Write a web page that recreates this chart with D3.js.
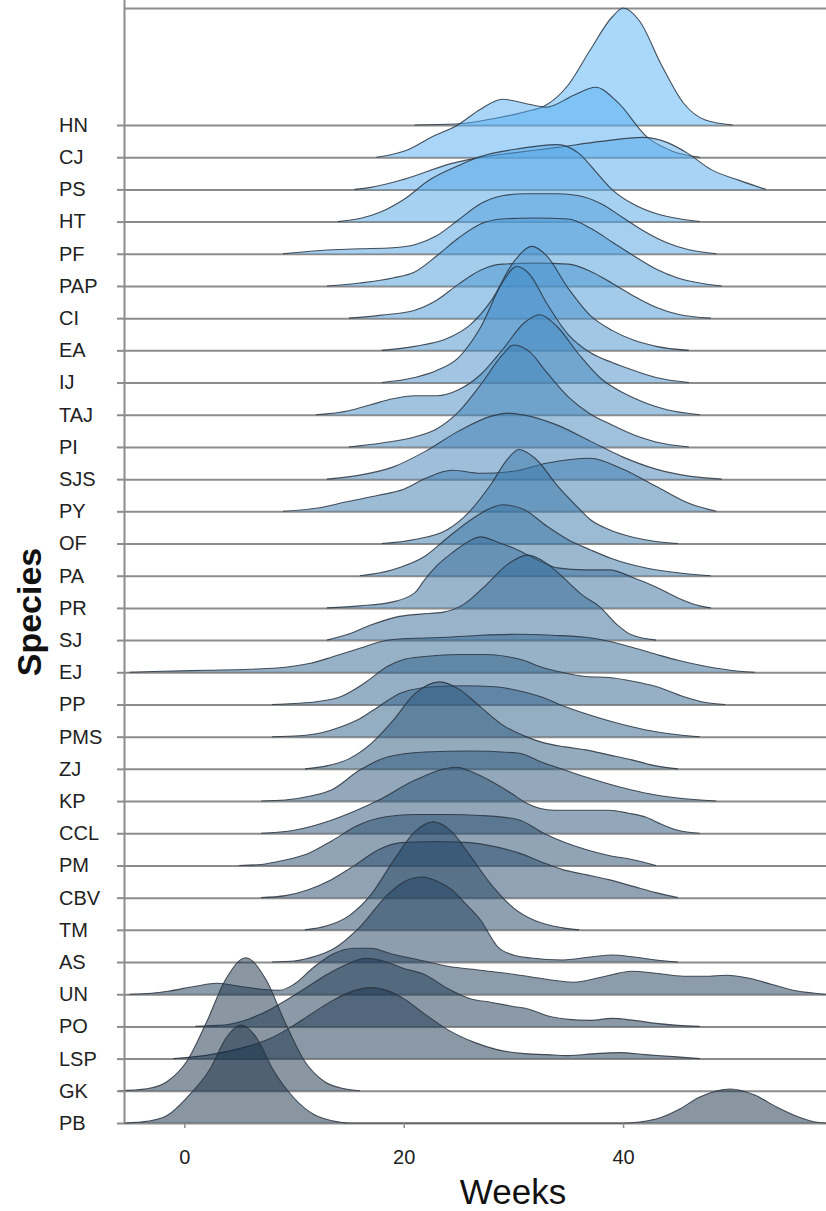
<!DOCTYPE html>
<html>
<head>
<meta charset="utf-8">
<script src="https://cdn.jsdelivr.net/npm/d3@7"></script>
<style>
  body { margin: 0; background: #fff; }
  svg { display: block; font-family: "Liberation Sans", Arial, sans-serif; }
</style>
</head>
<body>
<svg width="826" height="1211"></svg>
<script>
const svg = d3.select('svg');
const width = +svg.attr('width');
const height = +svg.attr('height');

// species, top to bottom
const species = ['HN','CJ','PS','HT','PF','PAP','CI','EA','IJ','TAJ','PI','SJS','PY','OF','PA','PR',
  'SJ','EJ','PP','PMS','ZJ','KP','CCL','PM','CBV','TM','AS','UN','PO','LSP','GK','PB'];

// ridge outlines: [week, relative density]
const hn = [[21,0],[24.8,1],[28,6],[31,13],[33,20],[35,40],[37,75],[39,108],[40,117],[41.5,104],[43.5,60],[45.5,22],[47.5,5],[50,0]];
const cj = [[17.5,0],[19,3],[20.5,8],[22.5,20],[24.9,32],[27,48],[29,58],[31,54],[33,50],[35.5,62],[37.5,70],[39.5,55],[42.2,20],[44.5,6],[47,0]];
const ps = [[15.5,0],[17,2],[20,10],[24.4,26],[27,32],[30.4,37],[34,42],[38,48],[41.8,52],[44,47],[45.9,36],[48,20],[50.6,9],[53,0]];
const ht = [[14,0],[16,3],[18,10],[20,22],[22.4,42],[25,56],[27,65],[30,72],[34,77],[36,68],[37.5,50],[39,32],[41,17],[43,8],[45,3],[47,0]];
const pf = [[9,0],[11,2],[13.5,4],[16,5],[19,6],[21,9],[23,18],[25,34],[27,50],[29,58],[31,60],[34,60],[36,58],[38,50],[40,36],[42,22],[44,11],[46,4],[48.5,0]];
const pap = [[13,0],[16,3],[19,8],[21,14],[23,30],[25,48],[27,62],[29,67],[32,68],[35,67],[37,58],[39,44],[41,30],[43,17],[45,8],[47,3],[49,0]];
const ci = [[15,0],[18,3],[21,8],[23,18],[25,34],[27,48],[29,54],[32,55],[35,54],[37,47],[39,35],[41,22],[43,11],[45,4],[48,0]];
const ea = [[18,0],[21,4],[24,12],[26,25],[28,50],[30,88],[31.7,104],[33,95],[35,62],[37,35],[39,20],[41,10],[43,4],[46,0]];
const ij = [[18,0],[21,5],[23,12],[25,25],[27,55],[29,100],[30.3,116],[31.5,108],[33,80],[35,48],[37,30],[39,20],[41,12],[43,5],[46,0]];
const taj = [[12,0],[15,4],[17,10],[19,16],[21,19],[23,19],[25,25],[27,40],[29,65],[31,92],[32.4,100],[34,88],[36,60],[38,36],[40,22],[42,12],[44,5],[47,0]];
const pi = [[15,0],[18,4],[21,10],[23,18],[25,35],[27,62],[29,92],[30,102],[31.5,95],[33,75],[35,50],[37,33],[39,22],[41,12],[43,5],[46,0]];
const sjs = [[13,0],[16,4],[19,12],[22,28],[25,48],[28,63],[29.5,66],[31,64],[34,54],[37,38],[40,22],[43,10],[46,3],[49,0]];
const py = [[9,0],[12,3],[15,10],[17.7,16],[20,22],[22,33],[24.4,41],[27,38],[30,40],[33,48],[37,53],[40,42],[43,25],[46,8],[48.5,0]];
const of = [[18,0],[21,4],[24,14],[26,32],[28,60],[29.5,85],[30.5,94],[32,85],[34,58],[35.8,37],[37,24],[38.7,14],[41,6],[43,2],[45,0]];
const pa = [[16,0],[19,6],[22,20],[24,38],[26,55],[28,68],[29,71],[31,66],[33,50],[35,36],[37,26],[39,17],[42,8],[45,3],[48,0]];
const pr = [[13,0],[16,2],[19,6],[21,15],[21.9,28],[23,42],[24.4,55],[26,67],[27,71],[28.5,66],[30.4,58],[32,49],[34,40],[36.5,38],[38.7,38],[41,30],[43,21],[45,10],[47,2],[48,0]];
const sj = [[13,0],[15,6],[17,15],[19.3,23],[21.5,26],[23.6,28],[25.5,36],[27.5,55],[29.5,76],[31.3,85],[33,77],[34.5,63],[36.3,45],[37.9,33],[39.5,15],[40.8,5],[43,0]];
const ej = [[-5,0],[-2,1],[2,2],[6,3],[9.2,5],[11.5,9],[13.4,15],[16,24],[18.5,32],[21,34],[24,35],[27,37],[30.4,38],[33.5,37],[36.6,35],[38.7,31],[40.8,25],[43,18],[45,12],[47.5,6],[50.6,1],[52,0]];
const pp = [[8,0],[10,1],[12.2,3],[14.3,8],[16.5,22],[18.5,38],[20,45],[21.9,48],[25.2,50],[27.5,50],[29.4,48],[31,44],[32.4,38],[34.5,32],[36.6,28],[38.7,27],[41,23],[43,18],[45.5,8],[47.5,2],[49.3,0]];
const pms = [[8,0],[10.5,1],[12.5,4],[14.3,10],[16,18],[17.7,30],[19.8,44],[22.7,50],[25.5,51],[28.3,50],[30.5,46],[32.5,40],[34.5,31],[36.6,23],[38.7,16],[40.8,10],[43,5],[45,2],[47,0]];
const zj = [[11,0],[13,3],[15,10],[17,25],[19,48],[21,75],[23.3,87],[25,80],[27,62],[29,44],[31.2,32],[32.8,26],[34.7,22],[36.6,19],[38.7,14],[40.8,9],[43,3],[45,0]];
const kp = [[7,0],[9.2,1],[11.5,5],[13.4,11],[16,31],[18.5,44],[21.9,49],[26,50],[30.4,48],[32.8,38],[34.7,31],[36.6,24],[38.7,17],[40.8,11],[43,6],[45,3],[48.5,0]];
const ccl = [[7,0],[10,3],[13.4,13],[15.5,22],[17.7,33],[21,53],[24.8,66],[26.5,60],[28.3,50],[29.8,40],[31.2,30],[33.7,23],[36,23],[38.7,23],[40.5,20],[42.1,16],[43.5,9],[45,3],[47,0]];
const pm = [[5,0],[7,1],[9,5],[11.3,12],[13.5,25],[15.6,39],[18.5,49],[21,51],[24,51],[27,50],[30.4,46],[32.8,32],[34.7,23],[36.6,16],[38.7,10],[40.8,6],[43,0]];
const cbv = [[7,0],[9.2,2],[11.3,8],[13.4,18],[15.5,32],[17.7,48],[19.8,55],[23,56],[26,55],[28.3,51],[30.4,45],[32.5,36],[34.5,28],[36.6,23],[38.7,18],[41,11],[43,5],[45,0]];
const tm = [[11,0],[13,4],[15,14],[17,35],[19,68],[21,98],[22.7,108],[24.4,98],[26,75],[28,45],[30,22],[32,9],[34.5,2],[36,0]];
const as = [[8,0],[10,1],[12,6],[13.4,12],[16,35],[18.5,67],[20,80],[21.7,85],[23,81],[24.4,72],[25.5,60],[27,42],[28.6,15],[30,7],[31.6,4],[34.5,2],[37,5],[39,7],[41,5],[43,2],[45,0]];
const un = [[-5,0],[-3,1],[-1.5,3],[1,8],[3,11],[5,8],[7,5],[8.7,4],[10,10],[11.8,27],[13.5,40],[15.5,46],[17,46],[19,40],[21.5,34],[24,28],[27,24],[30,20],[33,15],[35.5,12],[38,17],[40.8,23],[43,21],[45.5,18],[47.5,18],[49.4,19],[51.5,16],[53.5,10],[55.5,4],[57.5,1],[58.5,0]];
const po = [[1,0],[3,1],[4,2],[6,8],[8,18],[9.4,27],[11,38],[13,52],[15,63],[16.5,68],[18,66],[20,58],[21.9,52],[24,38],[26,28],[28,24],[30,20],[31.5,17],[33,11],[35,7],[37,6],[39,8],[41,6],[43,3],[45,1],[47,0]];
const lsp = [[-1,0],[1,2],[2.4,4],[5,10],[7.6,19],[9.5,30],[11.2,42],[13.5,58],[15.5,68],[17,71],[18.5,68],[20,60],[22,44],[24,29],[26.5,16],[28.5,9],[31,5],[33,4],[35,3],[37.5,5],[39.7,6],[42,4],[44.6,2],[47,0]];
const gk = [[-6,0],[-3.4,2],[-1.6,9],[0.2,29],[2,68],[3.8,112],[5.6,133],[7.4,112],[9.2,68],[11,29],[12.8,9],[14.6,2],[16,0]];
const pb = [[-5.5,0],[-3.2,2],[-1.5,8],[0.2,25],[2.4,55],[3.8,85],[5.2,98],[6.6,85],[8,55],[10,25],[11.9,8],[13.6,2],[15,0],[40,0],[43,4],[45,13],[47,26],[49.8,34],[52,28],[54,16],[56,6],[57.5,1],[58.5,0]];

const series = [hn,cj,ps,ht,pf,pap,ci,ea,ij,taj,pi,sjs,py,of,pa,pr,sj,ej,pp,pms,zj,kp,ccl,pm,cbv,tm,as,un,po,lsp,gk,pb];

const xTicks = [0, 20, 40];
const xLabel = 'Weeks';
const yLabel = 'Species';

const render = () => {
  const plot = {left: 124, right: 826, top: 8.5, first: 125, last: 1123};

  const xScale = d3.scaleLinear()
    .domain([-5.5, 58.5])
    .range([plot.left, plot.right]);

  const yScale = d3.scalePoint()
    .domain(species)
    .range([plot.first, plot.last]);

  const hScale = d3.scaleLinear()
    .domain([0, 100])
    .range([0, 100]);

  const colour = d3.scaleLinear()
    .domain([0, species.length - 1])
    .range(['#56B1F7', '#132B43'])
    .interpolate(d3.interpolateLab);

  // horizontal grid lines behind the ridges
  const gridG = svg.append('g')
    .attr('transform', `translate(${plot.left},0)`)
    .call(d3.axisLeft(yScale).tickSize(-(plot.right - plot.left)).tickFormat(''));
  gridG.select('.domain').remove();
  gridG.selectAll('line').attr('stroke', '#8c8c8c').attr('stroke-width', 2);

  svg.append('line')
    .attr('x1', plot.left).attr('x2', plot.right)
    .attr('y1', plot.top).attr('y2', plot.top)
    .attr('stroke', '#8c8c8c').attr('stroke-width', 2);

  // ridges, top row first so lower rows sit in front
  const ridges = svg.append('g');
  species.forEach((name, i) => {
    const base = yScale(name);
    const area = d3.area()
      .x(d => xScale(d[0]))
      .y0(base)
      .y1(d => base - hScale(d[1]))
      .curve(d3.curveMonotoneX);
    const line = d3.line()
      .x(d => xScale(d[0]))
      .y(d => base - hScale(d[1]))
      .curve(d3.curveMonotoneX);
    ridges.append('path')
      .attr('d', area(series[i]))
      .attr('fill', colour(i))
      .attr('fill-opacity', 0.5);
    ridges.append('path')
      .attr('d', line(series[i]))
      .attr('fill', 'none')
      .attr('stroke', '#2a3440')
      .attr('stroke-opacity', 0.85)
      .attr('stroke-width', 1.1);
  });

  // y axis with left aligned species names
  const yAxisG = svg.append('g')
    .attr('transform', `translate(${plot.left},0)`)
    .call(d3.axisLeft(yScale).tickSize(7).tickPadding(4));
  yAxisG.select('.domain')
    .attr('d', `M0.5,0V${plot.last}`)
    .attr('stroke', '#8c8c8c').attr('stroke-width', 2);
  yAxisG.selectAll('.tick line').attr('stroke', '#8c8c8c').attr('stroke-width', 2);
  yAxisG.selectAll('.tick text')
    .attr('x', 59 - plot.left)
    .attr('text-anchor', 'start')
    .attr('fill', '#222')
    .style('font-size', '20px');

  const xAxisG = svg.append('g')
    .attr('transform', `translate(0,${plot.last})`)
    .call(d3.axisBottom(xScale).tickValues(xTicks).tickSize(5).tickPadding(22));
  xAxisG.select('.domain').remove();
  xAxisG.selectAll('.tick line').attr('stroke', '#8c8c8c').attr('stroke-width', 1.5);
  xAxisG.selectAll('.tick text')
    .attr('fill', '#222')
    .style('font-size', '20px');

  svg.append('text')
    .attr('x', 513)
    .attr('y', 1204)
    .attr('text-anchor', 'middle')
    .attr('fill', '#111')
    .style('font-size', '35px')
    .text(xLabel);

  svg.append('text')
    .attr('transform', 'translate(41,612) rotate(-90)')
    .attr('text-anchor', 'middle')
    .attr('fill', '#111')
    .style('font-size', '34px')
    .style('font-weight', 'bold')
    .text(yLabel);
};

render();
</script>
</body>
</html>
